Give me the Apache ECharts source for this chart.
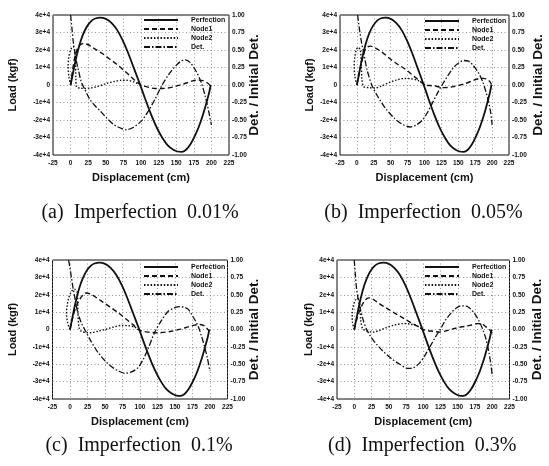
<!DOCTYPE html>
<html>
<head>
<meta charset="utf-8">
<script src="https://cdn.jsdelivr.net/npm/echarts@6/dist/echarts.min.js"></script>
<style>
  html, body { margin: 0; background: #fff; }
  #chart { width: 549px; height: 466px; }
</style>
</head>
<body>
<div id="chart"></div>
<script>
  // panel captions and legend names
  const captions = ['(a)  Imperfection  0.01%', '(b)  Imperfection  0.05%', '(c)  Imperfection  0.1%', '(d)  Imperfection  0.3%'];
  const names = ['Perfection', 'Node1', 'Node2', 'Det.'];

  // axis ranges (displacement cm, load kgf, det ratio)
  const dispRange = [-25, 225, 25];
  const loadRange = [-40000, 40000, 10000];
  const detRange = [-1, 1, 0.25];

  // perfect structure, same in every panel  [displacement, load]
  const perfection = [[0,0],[3,6000],[6,12000],[10,19000],[15,26000],[20,31000],[25,34500],[30,36800],[35,38000],[42,38500],[50,37800],[58,35500],[66,31500],[74,25500],[82,18000],[90,9500],[98,1000],[106,-8000],[114,-16500],[122,-24000],[130,-30000],[138,-34500],[146,-37000],[152,-38000],[158,-38200],[164,-37000],[170,-34000],[176,-29500],[182,-24000],[188,-17000],[193,-10000],[197,-4000],[199,0]];

  // (a) 0.01%
  const node1A = [[0,0],[3,9000],[6,16000],[10,21000],[14,23000],[18,23700],[25,23000],[35,20500],[45,18000],[55,15000],[65,12000],[75,8600],[85,5000],[93,2000],[100,0],[110,-1200],[120,-2000],[130,-2000],[145,-1200],[160,500],[172,2200],[180,2800],[188,2500],[195,1000],[200,-1000]];
  const node2A = [[0,0],[-2.5,5000],[-3.5,11000],[-2.5,16000],[0,20000],[3.5,22000],[6,20000],[7,12000],[7.5,4000],[8.5,-1200],[14,-1800],[20,-2000],[28,-1700],[37,-1000],[45,0],[52,1000],[62,2000],[72,2700],[80,2700],[88,2000],[94,1000],[100,0]];
  const detA = [[0,1.0],[2,0.8],[4,0.6],[7,0.4],[11,0.22],[15,0.05],[20,-0.06],[27,-0.2],[35,-0.3],[43,-0.38],[52,-0.48],[62,-0.57],[72,-0.62],[79,-0.64],[88,-0.61],[100,-0.52],[110,-0.38],[120,-0.2],[130,0],[140,0.16],[150,0.28],[157,0.34],[163,0.36],[170,0.32],[178,0.2],[185,0.05],[191,-0.15],[196,-0.37],[200,-0.57]];

  // (b) 0.05%
  const node1B = [[0,0],[4,8000],[7.5,13700],[12,20000],[16,21800],[20,22200],[27,21200],[37,18800],[47,15600],[57,12700],[72,8900],[85,4800],[94,2000],[101,0],[108,-300],[116,-600],[126,-1500],[141,-1100],[160,800],[172,2600],[180,3600],[187,3800],[193,3200],[197,1800],[200,-500]];
  const node2B = [[0,0],[-3,5000],[-4,11000],[-3,16000],[-1,20000],[2,21500],[5,20000],[6.5,12000],[7.5,3000],[10,-1000],[18,-1500],[27,-1700],[37,-500],[47,1300],[58,2800],[70,3700],[80,3600],[90,2700],[96,1200],[101,0]];
  const detB = [[1,1.0],[4,0.78],[7,0.6],[10,0.46],[15,0.22],[22,0],[30,-0.15],[42,-0.33],[55,-0.47],[67,-0.56],[79,-0.6],[88,-0.57],[96,-0.51],[104,-0.4],[111,-0.27],[119,-0.12],[126,0],[135,0.14],[143,0.25],[150,0.31],[158,0.35],[165,0.34],[172,0.28],[180,0.17],[186,0.05],[191,-0.1],[195,-0.25],[198,-0.4],[200,-0.57]];

  // (c) 0.1%
  const node1C = [[0,0],[4,7000],[9,13500],[15,18000],[20,20500],[23,21000],[30,20300],[38,18300],[45,16300],[57,13000],[69,9600],[80,6000],[90,2800],[97,0],[104,-1000],[111,-1500],[126,-1900],[145,-1000],[158,200],[169,1500],[178,2500],[185,2900],[191,2300],[195,1000],[199,-1000]];
  const node2C = [[0,0],[-3.5,4000],[-5,9600],[-4,14000],[-2,18000],[1,21000],[4,22800],[7.5,23000],[10.5,21000],[11,15000],[11.5,8000],[13,1000],[16,-1000],[23,-1700],[30,-1900],[40,-1000],[50,0],[61,1300],[73,2300],[83,2200],[92,1500],[97,0]];
  const detC = [[-2,1.0],[0,0.88],[2,0.75],[4,0.62],[7,0.45],[11,0.25],[16,0.1],[21,0],[30,-0.17],[40,-0.33],[50,-0.45],[60,-0.54],[70,-0.6],[78,-0.63],[88,-0.61],[97,-0.55],[104,-0.44],[111,-0.29],[121,-0.04],[130,0.12],[140,0.26],[149,0.31],[157,0.33],[163,0.32],[169,0.29],[176,0.18],[183,0.05],[188,-0.1],[192,-0.24],[196,-0.4],[200,-0.6]];

  // (d) 0.3%
  const node1D = [[0,0],[3,5000],[7,10000],[12,14500],[16,17000],[21,18200],[28,17200],[36,15000],[46,12500],[58,9600],[70.5,6700],[82,4000],[92,1800],[99.5,0],[107,-700],[114,-1000],[124,-1500],[133,-800],[143,400],[152,1200],[162,1900],[170,2600],[179,3400],[186,3000],[191,1500],[196,-200],[200,-2000]];
  const node2D = [[0,0],[-2.5,4000],[-3,8600],[-1,14400],[2,17000],[4,18200],[7,17000],[8.5,12000],[9.5,5000],[12,500],[15,-400],[27,-1500],[36,-600],[46,1000],[58,2500],[70.5,3400],[80,3200],[90,2300],[95,1200],[99.5,0]];
  const detD = [[0,1.0],[1.5,0.8],[3,0.62],[5,0.48],[8,0.33],[12,0.17],[17,0.02],[25,-0.12],[33,-0.22],[41.5,-0.31],[54,-0.42],[66,-0.5],[78,-0.56],[86,-0.55],[95,-0.48],[102,-0.38],[109,-0.26],[117,-0.12],[124,-0.01],[132,0.13],[140.6,0.24],[148,0.31],[155,0.34],[161,0.34],[167,0.31],[175,0.22],[182,0.1],[187,-0.02],[191,-0.14],[195,-0.32],[198,-0.5],[200,-0.67]];

  const panels = [
    { node1: node1A, node2: node2A, det: detA },
    { node1: node1B, node2: node2B, det: detB },
    { node1: node1C, node2: node2C, det: detC },
    { node1: node1D, node2: node2D, det: detD }
  ];

  // layout of the four boxes
  const boxes = [
    { left: 53, top: 15, width: 176, height: 140, loadGap: 35, detGap: 18, legLeft: 143, legTop: 16, capY: 213 },
    { left: 340, top: 15, width: 169, height: 140, loadGap: 25, detGap: 22, legLeft: 424, legTop: 17, capY: 213 },
    { left: 52.5, top: 260, width: 175, height: 139, loadGap: 34, detGap: 20, legLeft: 143, legTop: 263, capY: 446 },
    { left: 337, top: 260, width: 172.5, height: 139, loadGap: 23, detGap: 21, legLeft: 424, legTop: 263, capY: 446 }
  ];

  const SANS = '"Liberation Sans", Arial, sans-serif';
  const tickFont = { fontSize: 6.5, fontWeight: 'bold', color: '#111', fontFamily: SANS };
  const nameFont = { fontSize: 11, fontWeight: 'bold', color: '#111', fontFamily: SANS };
  const gridLine = { show: true, lineStyle: { color: '#7a7a7a', type: [1, 2.5], width: 0.8 } };

  const lineTypes = {
    'Perfection': { type: 'solid', width: 1.8 },
    'Node1': { type: [5, 3], width: 1.4 },
    'Node2': { type: [1.5, 1.8], width: 1.4 },
    'Det.': { type: [6, 2, 1.5, 2], width: 1.3 }
  };

  let grid = [], xAxis = [], yAxis = [], series = [], legend = [], graphic = [];

  boxes.forEach((b, i) => {
    grid.push({
      left: b.left, top: b.top, width: b.width, height: b.height,
      show: true, borderColor: '#111', borderWidth: 1, backgroundColor: 'transparent',
      containLabel: false, outerBoundsMode: 'none'
    });
    xAxis.push({
      type: 'value', gridIndex: i,
      min: dispRange[0], max: dispRange[1], interval: dispRange[2],
      axisLine: { show: false }, axisTick: { show: false },
      axisLabel: Object.assign({ margin: 5, showMinLabel: true, showMaxLabel: true }, tickFont),
      splitLine: gridLine,
      name: 'Displacement (cm)', nameLocation: 'middle', nameGap: 17,
      nameTextStyle: nameFont, nameMoveOverlap: false
    });
    yAxis.push({
      type: 'value', gridIndex: i, position: 'left',
      min: loadRange[0], max: loadRange[1], interval: loadRange[2],
      axisLine: { show: false }, axisTick: { show: false },
      axisLabel: Object.assign({
        margin: 3, showMinLabel: true, showMaxLabel: true,
        formatter: v => v === 0 ? '0' : (v / 10000) + 'e+4'
      }, tickFont),
      splitLine: gridLine,
      name: 'Load (kgf)', nameLocation: 'middle', nameRotate: 90, nameGap: b.loadGap,
      nameTextStyle: nameFont, nameMoveOverlap: false
    });
    yAxis.push({
      type: 'value', gridIndex: i, position: 'right',
      min: detRange[0], max: detRange[1], interval: detRange[2],
      axisLine: { show: false }, axisTick: { show: false },
      axisLabel: Object.assign({
        margin: 3, showMinLabel: true, showMaxLabel: true,
        formatter: v => v.toFixed(2)
      }, tickFont),
      splitLine: { show: false },
      name: 'Det. / Initial Det.', nameLocation: 'middle', nameRotate: 90, nameGap: b.detGap,
      nameTextStyle: Object.assign({}, nameFont, { fontSize: 13.5 }), nameMoveOverlap: false
    });

    const p = panels[i];
    const sets = [perfection, p.node1, p.node2, p.det];
    names.forEach((n, k) => {
      series.push({
        name: n, type: 'line', xAxisIndex: i,
        yAxisIndex: n === 'Det.' ? 2 * i + 1 : 2 * i,
        data: sets[k], symbol: 'none', showSymbol: false,
        smooth: 0.3, clip: true,
        lineStyle: Object.assign({ color: '#111' }, lineTypes[n]),
        itemStyle: { color: '#111' },
        emphasis: { disabled: true }
      });
    });

    legend.push({
      data: names, orient: 'vertical', left: b.legLeft, top: b.legTop,
      itemWidth: 34, itemHeight: 7, itemGap: 1, padding: 0,
      itemStyle: { color: 'rgba(0,0,0,0)', borderWidth: 0 },
      textStyle: { fontSize: 7, fontWeight: 'bold', color: '#111', fontFamily: SANS, lineHeight: 8, padding: [0, 0, 0, 8] },
      selectedMode: false
    });

    graphic.push({
      type: 'text',
      x: b.left + b.width / 2 - 1,
      y: b.capY,
      style: {
        text: captions[i], fill: '#111',
        font: '20px "Liberation Serif", "DejaVu Serif", serif',
        textAlign: 'center', textVerticalAlign: 'middle'
      }
    });
  });

  const chart = echarts.init(document.getElementById('chart'), null, { renderer: 'canvas' });
  chart.setOption({
    animation: false,
    backgroundColor: '#fff',
    grid: grid,
    xAxis: xAxis,
    yAxis: yAxis,
    legend: legend,
    series: series,
    graphic: graphic
  });
</script>
</body>
</html>
